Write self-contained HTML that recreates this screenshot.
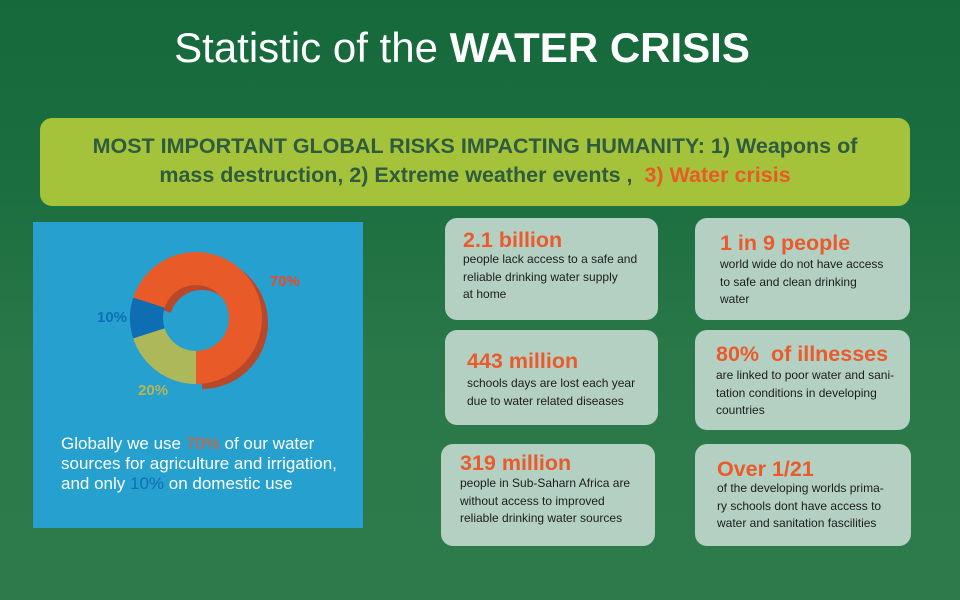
<!DOCTYPE html>
<html><head><meta charset="utf-8">
<style>
*{margin:0;padding:0;box-sizing:border-box}
body{width:960px;height:600px;overflow:hidden;font-family:"Liberation Sans",sans-serif;}
#root{position:relative;width:960px;height:600px;background:linear-gradient(180deg,#16693b 0%,#1b6e40 30%,#2a7848 60%,#2e7a4b 100%);overflow:hidden}
.abs{position:absolute}
.card{position:absolute;background:#b4d0c3;border-radius:12px}
.card .h{position:absolute;color:#ea5a2a;font-weight:bold;font-size:21.5px;white-space:nowrap}
.card .b{position:absolute;color:#1c1c1c;font-size:12px;line-height:17.5px;white-space:nowrap}
</style></head><body>
<div id="root">
<div class="abs" style="left:-18px;width:960px;top:24px;text-align:center;color:#fff;font-size:42px;line-height:48px">Statistic of the <b>WATER CRISIS</b></div>
<div class="abs" style="left:40px;top:118px;width:870px;height:88px;background:#a5c33a;border-radius:12px;text-align:center;color:#2f5b3e;font-weight:bold;font-size:21.5px;line-height:29px;padding-top:14px">MOST IMPORTANT GLOBAL RISKS IMPACTING HUMANITY: 1) Weapons of<br>mass destruction, 2) Extreme weather events ,&nbsp; <span style="color:#e85a28">3) Water crisis</span></div>

<div class="abs" style="left:33px;top:222px;width:330px;height:306px;background:#25a0cf">
<svg id="donut" width="330" height="200" style="position:absolute;left:0;top:0"></svg>
<div class="abs" style="left:28px;top:212px;color:#fff;font-size:17px;line-height:20px;white-space:nowrap">Globally we use <span style="color:#ea5a2a">70%</span> of our water<br>sources for agriculture and irrigation,<br>and only <span style="color:#0f6fb5">10%</span> on domestic use</div>
</div>

<div class="card" style="left:445px;top:218px;width:213px;height:102px">
<div class="h" style="left:18px;top:10px">2.1 billion</div>
<div class="b" style="left:18px;top:33px">people lack access to a safe and<br>reliable drinking water supply<br>at home</div></div>
<div class="card" style="left:695px;top:218px;width:215px;height:102px">
<div class="h" style="left:25px;top:13px">1 in 9 people</div>
<div class="b" style="left:25px;top:38px">world wide do not have access<br>to safe and clean drinking<br>water</div></div>
<div class="card" style="left:445px;top:330px;width:213px;height:95px">
<div class="h" style="left:22px;top:19px">443 million</div>
<div class="b" style="left:22px;top:45px">schools days are lost each year<br>due to water related diseases</div></div>
<div class="card" style="left:695px;top:330px;width:215px;height:100px">
<div class="h" style="left:21px;top:12px">80%&nbsp; of illnesses</div>
<div class="b" style="left:21px;top:37px">are linked to poor water and sani-<br>tation conditions in developing<br>countries</div></div>
<div class="card" style="left:441px;top:444px;width:214px;height:102px">
<div class="h" style="left:19px;top:7px">319 million</div>
<div class="b" style="left:19px;top:31px">people in Sub-Saharn Africa are<br>without access to improved<br>reliable drinking water sources</div></div>
<div class="card" style="left:695px;top:444px;width:216px;height:102px">
<div class="h" style="left:22px;top:13px">Over 1/21</div>
<div class="b" style="left:22px;top:36px">of the developing worlds prima-<br>ry schools dont have access to<br>water and sanitation fascilities</div></div>
</div>
<script>
const categories=["Agriculture","Industry","Domestic"];
const values=[70,20,10];
const labels=["70%","20%","10%"];
const colors=["#e85a27","#adb85a","#0f6db3"];
const labelColors=["#ea4a25","#b6b84f","#0f6fb5"];
const svg=document.getElementById('donut');


const NS="http://www.w3.org/2000/svg";
const cx=163,cy=96,R=66,r=33,start=288;
const total=values.reduce((a,b)=>a+b,0);
function pt(a,rad,ox,oy){const t=(a-90)*Math.PI/180;return [cx+ox+rad*Math.cos(t),cy+oy+rad*Math.sin(t)];}
function arc(a0,a1,ox,oy){const l=(a1-a0)>180?1:0;const p0=pt(a0,R,ox,oy),p1=pt(a1,R,ox,oy),q1=pt(a1,r,ox,oy),q0=pt(a0,r,ox,oy);
return `M${p0}A${R},${R} 0 ${l} 1 ${p1}L${q1}A${r},${r} 0 ${l} 0 ${q0}Z`;}
let a=start;
const angles=values.map(v=>{const s=a;a+=v/total*360;return [s,a];});
const sh=document.createElementNS(NS,'path');
sh.setAttribute('d',arc(angles[0][0],angles[0][1],6,5));
sh.setAttribute('fill','#b9482a');


svg.appendChild(sh);
const adjs=[[16,17],[10,0],[6,0]];
angles.forEach((an,i)=>{
 const p=document.createElementNS(NS,'path');
 p.setAttribute('d',arc(an[0],an[1],0,0));
 p.setAttribute('fill',colors[i]);
 
 
 svg.appendChild(p);
 const mid=(an[0]+an[1])/2;
 const lp=pt(mid,90,0,0);
 const t=document.createElementNS(NS,'text');
 t.setAttribute('x',lp[0]+adjs[i][0]);t.setAttribute('y',lp[1]+adjs[i][1]);
 t.setAttribute('text-anchor','middle');t.setAttribute('dominant-baseline','middle');
 t.setAttribute('font-family','Liberation Sans, sans-serif');t.setAttribute('font-weight','bold');t.setAttribute('font-size','15');
 t.setAttribute('fill',labelColors[i]);
 t.textContent=labels[i];
 
 
 svg.appendChild(t);
});
</script>
</body></html>
